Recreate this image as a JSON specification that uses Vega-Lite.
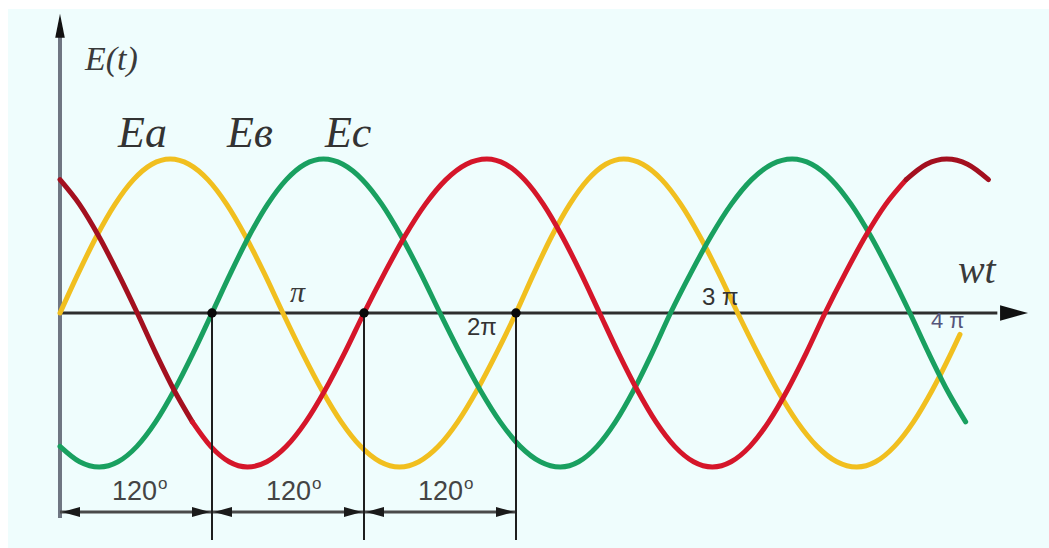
{
  "$schema": "https://vega.github.io/schema/vega-lite/v6.json",
  "width": 1041,
  "height": 539,
  "autosize": {"type": "none"},
  "padding": {"left": 8, "top": 9, "right": 0, "bottom": 0},
  "background": "#ffffff",
  "view": {"fill": "#effdfd", "stroke": null},
  "encoding": {
    "x": {"field": "x", "type": "quantitative", "axis": null, "scale": {"domain": [-41.0526, 780.789], "nice": false, "zero": false}},
    "y": {"field": "y", "type": "quantitative", "axis": null, "scale": {"domain": [-1.52597, 1.97403], "nice": false, "zero": false}}
  },
  "layer": [
    {
      "data": {"values": [{"x": 0, "y": -1.331, "y2": 1.80}]},
      "mark": {"type": "rule", "color": "#6f7682", "strokeWidth": 4},
      "encoding": {"y2": {"field": "y2"}}
    },
    {
      "data": {"values": [{"x": 0, "y": 0, "x2": 740}]},
      "mark": {"type": "rule", "color": "#2e2e2e", "strokeWidth": 3},
      "encoding": {"x2": {"field": "x2"}}
    },
    {
      "data": {"values": [{"x": 0, "y": -1.292, "x2": 360}]},
      "mark": {"type": "rule", "color": "#4a4a4a", "strokeWidth": 3},
      "encoding": {"x2": {"field": "x2"}}
    },
    {
      "data": {"values": [
        {"s": "Ea", "x": 0, "y": 0}, {"s": "Ea", "x": 14.5, "y": 0.259}, {"s": "Ea", "x": 29, "y": 0.5}, {"s": "Ea", "x": 43.5, "y": 0.707}, {"s": "Ea", "x": 58, "y": 0.866}, {"s": "Ea", "x": 72.5, "y": 0.966}, {"s": "Ea", "x": 87, "y": 1},
        {"s": "Ea", "x": 101.8, "y": 0.966}, {"s": "Ea", "x": 116.7, "y": 0.866}, {"s": "Ea", "x": 131.5, "y": 0.707}, {"s": "Ea", "x": 146.3, "y": 0.5}, {"s": "Ea", "x": 161.2, "y": 0.259}, {"s": "Ea", "x": 176, "y": 0},
        {"s": "Ea", "x": 191.3, "y": -0.259}, {"s": "Ea", "x": 206.7, "y": -0.5}, {"s": "Ea", "x": 222, "y": -0.707}, {"s": "Ea", "x": 237.3, "y": -0.866}, {"s": "Ea", "x": 252.7, "y": -0.966}, {"s": "Ea", "x": 268, "y": -1},
        {"s": "Ea", "x": 283.3, "y": -0.966}, {"s": "Ea", "x": 298.7, "y": -0.866}, {"s": "Ea", "x": 314, "y": -0.707}, {"s": "Ea", "x": 329.3, "y": -0.5}, {"s": "Ea", "x": 344.7, "y": -0.259}, {"s": "Ea", "x": 360, "y": 0},
        {"s": "Ea", "x": 374.2, "y": 0.259}, {"s": "Ea", "x": 388.3, "y": 0.5}, {"s": "Ea", "x": 402.5, "y": 0.707}, {"s": "Ea", "x": 416.7, "y": 0.866}, {"s": "Ea", "x": 430.8, "y": 0.966}, {"s": "Ea", "x": 445, "y": 1},
        {"s": "Ea", "x": 460, "y": 0.966}, {"s": "Ea", "x": 475, "y": 0.866}, {"s": "Ea", "x": 490, "y": 0.707}, {"s": "Ea", "x": 505, "y": 0.5}, {"s": "Ea", "x": 520, "y": 0.259}, {"s": "Ea", "x": 535, "y": 0},
        {"s": "Ea", "x": 550.7, "y": -0.259}, {"s": "Ea", "x": 566.3, "y": -0.5}, {"s": "Ea", "x": 582, "y": -0.707}, {"s": "Ea", "x": 597.7, "y": -0.866}, {"s": "Ea", "x": 613.3, "y": -0.966}, {"s": "Ea", "x": 629, "y": -1},
        {"s": "Ea", "x": 643.9, "y": -0.966}, {"s": "Ea", "x": 658.8, "y": -0.866}, {"s": "Ea", "x": 673.8, "y": -0.707}, {"s": "Ea", "x": 688.7, "y": -0.5}, {"s": "Ea", "x": 703.6, "y": -0.259}, {"s": "Ea", "x": 710.5, "y": -0.139},

        {"s": "Ec", "x": 0, "y": -0.866}, {"s": "Ec", "x": 15.5, "y": -0.966}, {"s": "Ec", "x": 31, "y": -1},
        {"s": "Ec", "x": 45.8, "y": -0.966}, {"s": "Ec", "x": 60.7, "y": -0.866}, {"s": "Ec", "x": 75.5, "y": -0.707}, {"s": "Ec", "x": 90.3, "y": -0.5}, {"s": "Ec", "x": 105.2, "y": -0.259}, {"s": "Ec", "x": 120, "y": 0},
        {"s": "Ec", "x": 134.7, "y": 0.259}, {"s": "Ec", "x": 149.3, "y": 0.5}, {"s": "Ec", "x": 164, "y": 0.707}, {"s": "Ec", "x": 178.7, "y": 0.866}, {"s": "Ec", "x": 193.3, "y": 0.966}, {"s": "Ec", "x": 208, "y": 1},
        {"s": "Ec", "x": 223.3, "y": 0.966}, {"s": "Ec", "x": 238.7, "y": 0.866}, {"s": "Ec", "x": 254, "y": 0.707}, {"s": "Ec", "x": 269.3, "y": 0.5}, {"s": "Ec", "x": 284.7, "y": 0.259}, {"s": "Ec", "x": 300, "y": 0},
        {"s": "Ec", "x": 315.8, "y": -0.259}, {"s": "Ec", "x": 331.7, "y": -0.5}, {"s": "Ec", "x": 347.5, "y": -0.707}, {"s": "Ec", "x": 363.3, "y": -0.866}, {"s": "Ec", "x": 379.2, "y": -0.966}, {"s": "Ec", "x": 395, "y": -1},
        {"s": "Ec", "x": 409.5, "y": -0.966}, {"s": "Ec", "x": 424, "y": -0.866}, {"s": "Ec", "x": 438.5, "y": -0.707}, {"s": "Ec", "x": 453, "y": -0.5}, {"s": "Ec", "x": 467.5, "y": -0.259}, {"s": "Ec", "x": 482, "y": 0},
        {"s": "Ec", "x": 498, "y": 0.259}, {"s": "Ec", "x": 514, "y": 0.5}, {"s": "Ec", "x": 530, "y": 0.707}, {"s": "Ec", "x": 546, "y": 0.866}, {"s": "Ec", "x": 562, "y": 0.966}, {"s": "Ec", "x": 578, "y": 1},
        {"s": "Ec", "x": 593.5, "y": 0.966}, {"s": "Ec", "x": 609, "y": 0.866}, {"s": "Ec", "x": 624.5, "y": 0.707}, {"s": "Ec", "x": 640, "y": 0.5}, {"s": "Ec", "x": 655.5, "y": 0.259}, {"s": "Ec", "x": 671, "y": 0},
        {"s": "Ec", "x": 685.7, "y": -0.259}, {"s": "Ec", "x": 700.3, "y": -0.5}, {"s": "Ec", "x": 715, "y": -0.707},

        {"s": "Eb1", "x": 0, "y": 0.866}, {"s": "Eb1", "x": 15.25, "y": 0.707}, {"s": "Eb1", "x": 30.5, "y": 0.5}, {"s": "Eb1", "x": 45.75, "y": 0.259}, {"s": "Eb1", "x": 61, "y": 0},
        {"s": "Eb1", "x": 75.5, "y": -0.259}, {"s": "Eb1", "x": 90, "y": -0.5}, {"s": "Eb1", "x": 104.5, "y": -0.707},

        {"s": "Eb", "x": 104.5, "y": -0.707}, {"s": "Eb", "x": 119, "y": -0.866}, {"s": "Eb", "x": 133.5, "y": -0.966}, {"s": "Eb", "x": 148, "y": -1},
        {"s": "Eb", "x": 163.3, "y": -0.966}, {"s": "Eb", "x": 178.7, "y": -0.866}, {"s": "Eb", "x": 194, "y": -0.707}, {"s": "Eb", "x": 209.3, "y": -0.5}, {"s": "Eb", "x": 224.7, "y": -0.259}, {"s": "Eb", "x": 240, "y": 0},
        {"s": "Eb", "x": 256.2, "y": 0.259}, {"s": "Eb", "x": 272.3, "y": 0.5}, {"s": "Eb", "x": 288.5, "y": 0.707}, {"s": "Eb", "x": 304.7, "y": 0.866}, {"s": "Eb", "x": 320.8, "y": 0.966}, {"s": "Eb", "x": 337, "y": 1},
        {"s": "Eb", "x": 351.8, "y": 0.966}, {"s": "Eb", "x": 366.7, "y": 0.866}, {"s": "Eb", "x": 381.5, "y": 0.707}, {"s": "Eb", "x": 396.3, "y": 0.5}, {"s": "Eb", "x": 411.2, "y": 0.259}, {"s": "Eb", "x": 426, "y": 0},
        {"s": "Eb", "x": 440.8, "y": -0.259}, {"s": "Eb", "x": 455.7, "y": -0.5}, {"s": "Eb", "x": 470.5, "y": -0.707}, {"s": "Eb", "x": 485.3, "y": -0.866}, {"s": "Eb", "x": 500.2, "y": -0.966}, {"s": "Eb", "x": 515, "y": -1},
        {"s": "Eb", "x": 529.8, "y": -0.966}, {"s": "Eb", "x": 544.7, "y": -0.866}, {"s": "Eb", "x": 559.5, "y": -0.707}, {"s": "Eb", "x": 574.3, "y": -0.5}, {"s": "Eb", "x": 589.2, "y": -0.259}, {"s": "Eb", "x": 604, "y": 0},
        {"s": "Eb", "x": 620, "y": 0.259}, {"s": "Eb", "x": 636, "y": 0.5}, {"s": "Eb", "x": 652, "y": 0.707}, {"s": "Eb", "x": 668, "y": 0.866},

        {"s": "Eb2", "x": 668, "y": 0.866}, {"s": "Eb2", "x": 684, "y": 0.966}, {"s": "Eb2", "x": 700, "y": 1}, {"s": "Eb2", "x": 716.5, "y": 0.966}, {"s": "Eb2", "x": 733, "y": 0.866}
      ]},
      "mark": {"type": "line", "interpolate": "monotone", "strokeWidth": 5, "strokeCap": "round"},
      "encoding": {
        "color": {"field": "s", "type": "nominal", "legend": null, "scale": {"domain": ["Ea", "Ec", "Eb", "Eb1", "Eb2"], "range": ["#f1bf1f", "#19a060", "#d5162a", "#a3101f", "#a3101f"]}}
      }
    },
    {
      "data": {"values": [{"x": 120, "y": 0, "y2": -1.474}, {"x": 240, "y": 0, "y2": -1.474}, {"x": 360, "y": 0, "y2": -1.474}]},
      "mark": {"type": "rule", "color": "#1e1e1e", "strokeWidth": 2},
      "encoding": {"y2": {"field": "y2"}}
    },
    {
      "data": {"values": [{"x": 120, "y": 0}, {"x": 240, "y": 0}, {"x": 360, "y": 0}]},
      "mark": {"type": "point", "shape": "circle", "filled": true, "size": 90, "color": "#0a0a0a", "opacity": 1}
    },
    {
      "data": {"values": [{"x": 0, "y": 1.865}]},
      "mark": {"type": "point", "shape": "M0,-1L0.4,1L-0.4,1Z", "filled": true, "size": 576, "color": "#111111", "opacity": 1}
    },
    {
      "data": {"values": [{"x": 753.2, "y": 0}]},
      "mark": {"type": "point", "shape": "M1,0L-1,-0.55L-1,0.55Z", "filled": true, "size": 784, "color": "#111111", "opacity": 1}
    },
    {
      "data": {"values": [{"x": 8.7, "y": -1.292}, {"x": 128.7, "y": -1.292}, {"x": 248.7, "y": -1.292}]},
      "mark": {"type": "point", "shape": "M-1,0L1,-0.55L1,0.55Z", "filled": true, "size": 324, "color": "#1a1a1a", "opacity": 1}
    },
    {
      "data": {"values": [{"x": 111.3, "y": -1.292}, {"x": 231.3, "y": -1.292}, {"x": 351.3, "y": -1.292}]},
      "mark": {"type": "point", "shape": "M1,0L-1,-0.55L-1,0.55Z", "filled": true, "size": 324, "color": "#1a1a1a", "opacity": 1}
    },
    {
      "data": {"values": [{"x": 19.7, "y": 1.578, "t": "E(t)"}]},
      "mark": {"type": "text", "font": "Liberation Serif", "fontStyle": "italic", "fontSize": 34, "align": "left", "baseline": "alphabetic", "color": "#3a3a3a"},
      "encoding": {"text": {"field": "t"}}
    },
    {
      "data": {"values": [{"x": 45.8, "y": 1.078, "t": "Ea"}, {"x": 131.8, "y": 1.078, "t": "Eв"}, {"x": 209.2, "y": 1.078, "t": "Ec"}]},
      "mark": {"type": "text", "font": "Liberation Serif", "fontStyle": "italic", "fontSize": 44, "align": "left", "baseline": "alphabetic", "color": "#333333"},
      "encoding": {"text": {"field": "t"}}
    },
    {
      "data": {"values": [{"x": 708.9, "y": 0.195, "t": "wt"}]},
      "mark": {"type": "text", "font": "Liberation Serif", "fontStyle": "italic", "fontSize": 40, "align": "left", "baseline": "alphabetic", "color": "#3a3a3a"},
      "encoding": {"text": {"field": "t"}}
    },
    {
      "data": {"values": [{"x": 181.6, "y": 0.0714, "t": "π"}]},
      "mark": {"type": "text", "font": "Liberation Serif", "fontStyle": "italic", "fontSize": 30, "align": "left", "baseline": "alphabetic", "color": "#3a3a3a"},
      "encoding": {"text": {"field": "t"}}
    },
    {
      "data": {"values": [{"x": 321.3, "y": -0.143, "t": "2π"}, {"x": 506.8, "y": 0.052, "t": "3 π"}]},
      "mark": {"type": "text", "font": "Liberation Sans", "fontSize": 24, "align": "left", "baseline": "alphabetic", "color": "#333333"},
      "encoding": {"text": {"field": "t"}}
    },
    {
      "data": {"values": [{"x": 687.6, "y": -0.097, "t": "4 π"}]},
      "mark": {"type": "text", "font": "Liberation Sans", "fontSize": 22, "align": "left", "baseline": "alphabetic", "color": "#55557a"},
      "encoding": {"text": {"field": "t"}}
    },
    {
      "data": {"values": [{"x": 41.05, "y": -1.214, "t": "120"}, {"x": 162.6, "y": -1.214, "t": "120"}, {"x": 282.6, "y": -1.214, "t": "120"}]},
      "mark": {"type": "text", "font": "Liberation Sans", "fontSize": 27, "align": "left", "baseline": "alphabetic", "color": "#444444"},
      "encoding": {"text": {"field": "t"}}
    },
    {
      "data": {"values": [{"x": 77.4, "y": -1.143, "t": "o"}, {"x": 198.9, "y": -1.143, "t": "o"}, {"x": 318.9, "y": -1.143, "t": "o"}]},
      "mark": {"type": "text", "font": "Liberation Sans", "fontSize": 17, "align": "left", "baseline": "alphabetic", "color": "#444444"},
      "encoding": {"text": {"field": "t"}}
    }
  ]
}
